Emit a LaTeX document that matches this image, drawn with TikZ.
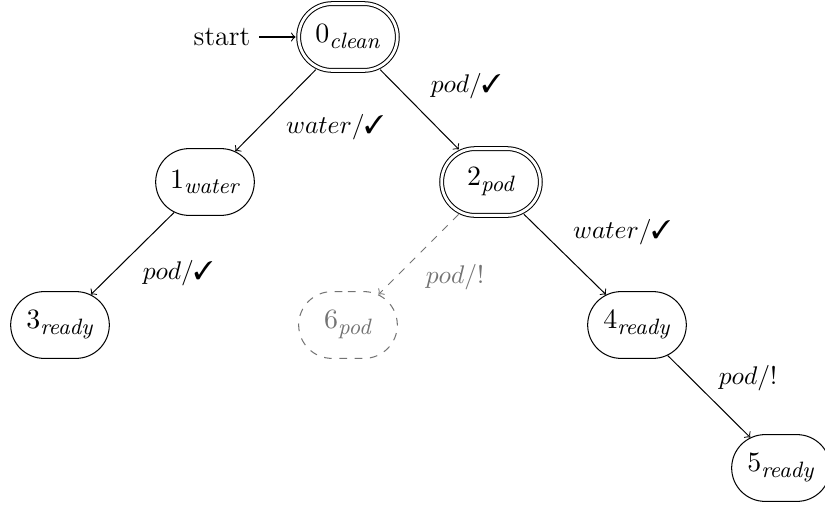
\documentclass[tikz,border=0pt]{standalone}
\usepackage{pifont}
\usetikzlibrary{shapes.misc}

% state names: a numeral with an italic text subscript
\newcommand\stname[2]{{\fontsize{11}{13}\selectfont$#1_{\hbox{\fontsize{8.7}{10}\selectfont\itshape #2}}$}}
\newcommand\ok{\ding{51}}

\begin{document}
\begin{tikzpicture}[x=0.01378cm, y=-0.01378cm,
  state/.style={rounded rectangle, draw, minimum width=1.5cm,
    minimum height=0.92cm, inner sep=2pt},
  accepting/.style={double, double distance=1.1pt, outer sep=1.2pt},
  ghost/.style={dashed, draw=black!55, text=black!55},
  trans/.style={->},
  lbl/.style={inner sep=0pt}]

\useasboundingbox (0,0) rectangle (825,510);

% states
\node[state, accepting] (n0) at (348,37)  {\stname{0}{clean}};
\node[state]            (n1) at (205,182) {\stname{1}{water}};
\node[state, accepting] (n2) at (491,182) {\stname{2}{pod}};
\node[state]            (n3) at (60,325)  {\stname{3}{ready}};
\node[state, ghost]     (n6) at (348,325) {\stname{6}{pod}};
\node[state]            (n4) at (637,325) {\stname{4}{ready}};
\node[state]            (n5) at (781,468) {\stname{5}{ready}};

% initial marker
\node[font=\fontsize{11}{13}\selectfont] (start) at (222,37) {start};
\draw[trans] (start) -- (n0);

% transitions
\draw[trans] (n0) -- (n1);
\draw[trans] (n0) -- (n2);
\draw[trans] (n1) -- (n3);
\draw[trans, ghost] (n2) -- (n6);
\draw[trans] (n2) -- (n4);
\draw[trans] (n4) -- (n5);

% transition labels
\node[lbl] (l01) at (335,127) {$water/$\ok};
\node[lbl] (l02) at (466,86)  {$pod/$\ok};
\node[lbl] (l13) at (178,273) {$pod/$\ok};
\node[lbl, text=black!55] (l26) at (455,277) {$pod/!$};
\node[lbl] (l24) at (622,232) {$water/$\ok};
\node[lbl] (l45) at (748,378) {$pod/!$};
\end{tikzpicture}
\end{document}
